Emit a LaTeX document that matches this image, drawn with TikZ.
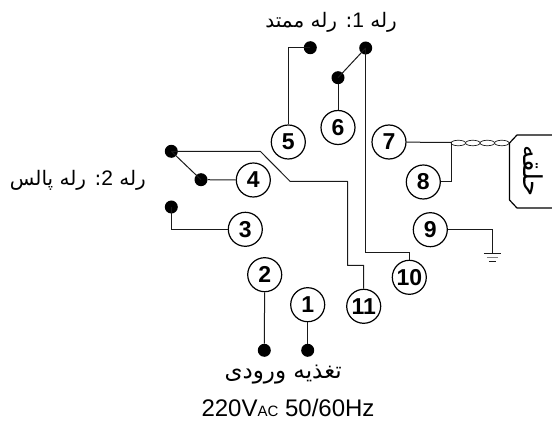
\documentclass[tikz,border=0pt]{standalone}
\usepackage{fontspec}
\usetikzlibrary{shapes.geometric,calc}
\setmainfont{Liberation Sans}
\newfontfamily\arabicfont[Script=Arabic]{DejaVu Sans}
\TeXXeTstate=1
\definecolor{ink}{HTML}{1A1A1A}
\tikzset{
  term/.style={circle,draw=black,line width=1.2pt,fill=white,minimum size=34pt,inner sep=0pt,font=\fontsize{23}{23}\selectfont\bfseries},
  dot/.style={circle,fill=black,draw=none,minimum size=13pt,inner sep=0pt},
  wire/.style={draw=ink,line width=1pt},
  twist/.style={ellipse,draw=ink,line width=0.7pt,fill=white,minimum width=14.5pt,minimum height=5.5pt,inner sep=0pt},
  lab/.style={inner sep=0pt,font=\fontsize{20}{20}\arabicfont}
}
\begin{document}
\begin{tikzpicture}[x=1pt,y=-1pt]
\useasboundingbox (0,0) rectangle (552,422);
% terminals
\node[term] (n1) at (307.7,304.7) {1};
\node[term] (n2) at (264.7,274.7) {2};
\node[term] (n3) at (245.3,229.3) {3};
\node[term] (n4) at (253.3,180) {4};
\node[term] (n5) at (288.3,142) {5};
\node[term] (n6) at (338,127.5) {6};
\node[term] (n7) at (389,142) {7};
\node[term] (n8) at (423.3,182) {8};
\node[term] (n9) at (430.3,229.7) {9};
\node[term] (n10) at (409.3,277.3) {10};
\node[term] (n11) at (363.7,306.3) {11};
% contacts
\node[dot] (d1) at (307.7,350.3) {};
\node[dot] (d2) at (264.3,350.3) {};
\node[dot] (d3) at (171.3,207) {};
\node[dot] (d4) at (201,179.7) {};
\node[dot] (d4u) at (171.3,151.3) {};
\node[dot] (d5) at (310.3,47.7) {};
\node[dot] (d6) at (338,77.7) {};
\node[dot] (d7) at (365.7,48) {};
% twisted pair
\node[twist] (t1) at (458.3,143) {};
\node[twist] (t2) at (472.8,143) {};
\node[twist] (t3) at (487.3,143) {};
\node[twist] (t4) at (501.8,143) {};
% way points
\coordinate (a1) at (260.3,151.3);
\coordinate (a2) at (290,181.3);
\coordinate (a3) at (347.5,181.3);
\coordinate (a4) at (347.5,265.3);
\coordinate (b1) at (365.7,252.3);
\coordinate (j78) at (451,142.5);
\coordinate (g1) at (492.3,253.5);
% connectors
\draw[wire] (n1) -- (d1);
\draw[wire] (n2) -- (d2);
\draw[wire] (d3.center) |- (n3);
\draw[wire] (d4) -- (n4);
\draw[wire] (d4u.center) -- (d4.center);
\draw[wire] (d5.center) -| (n5);
\draw[wire] (d6) -- (n6);
\draw[wire] (d6.center) -- (d7.center);
\draw[wire] (d7.center) -- (b1) -| (n10);
\draw[wire,line join=round] (d4u.center) -- (a1) -- (a2) -- (a3) -- (a4) -| (n11);
\draw[wire] (n7) -- (j78);
\draw[wire] (n8) -| (j78);
\draw[wire] (n9) -| (g1);
% ground
\draw[wire] ($(g1)+(-8.5,0)$) -- ($(g1)+(8.5,0)$);
\draw[wire,line width=.9pt,draw=gray] ($(g1)+(-5.5,3.5)$) -- ($(g1)+(5.5,3.5)$);
\draw[wire,line width=.9pt] ($(g1)+(-3.5,7.5)$) -- ($(g1)+(3.5,7.5)$);
% ring block
\draw[draw=black,line width=1.2pt,line join=round] (553,135) -- (517,135) -- (509.5,143) -- (509.5,200) -- (517,208) -- (553,208);
\node[inner sep=0pt,rotate=-90,font=\fontsize{26}{26}\arabicfont] (ring) at (533,171) {\beginR حلقه\endR};
% labels
\node[lab,anchor=east] (rel1) at (397,22) {\beginR رله {\fontsize{21}{21}\rmfamily\beginL 1\endL}: رله ممتد\endR};
\node[lab,anchor=east] (rel2) at (146,180) {\beginR رله {\fontsize{21}{21}\rmfamily\beginL 2\endL}: رله پالس\endR};
\node[inner sep=0pt,anchor=east,font=\fontsize{23}{23}\arabicfont] (pow) at (342,375) {\beginR تغذیه ورودی\endR};
\node[inner sep=0pt,anchor=base,font=\fontsize{24}{24}\selectfont] (volt) at (288,416.5) {220V{\fontsize{15}{15}\selectfont AC} 50/60Hz};
\end{tikzpicture}
\end{document}
